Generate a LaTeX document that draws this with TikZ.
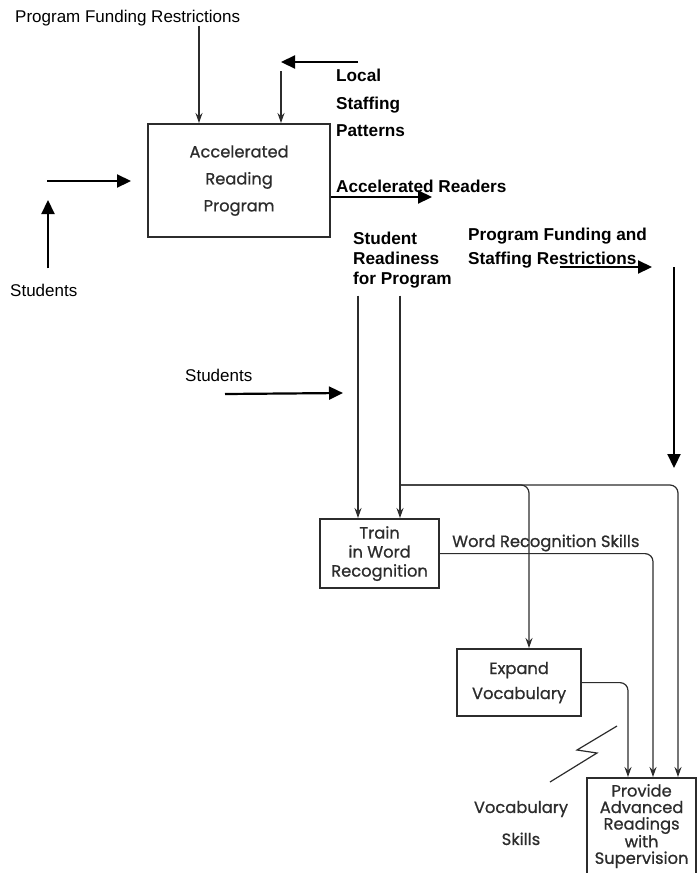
\documentclass[tikz,border=0pt]{standalone}
\usepackage{fontspec}
\setmainfont{Liberation Sans}
\newfontfamily\scanfont[FakeBold=0.8]{Poppins}
\usetikzlibrary{arrows.meta,positioning}
\definecolor{scan}{HTML}{2c2c2c}
\def \sz{17}

\begin{document}
\begin{tikzpicture}[x=1pt, y=-1pt,
    every node/.style={inner sep=0pt},
    plain/.style={font=\fontsize{\sz}{20}\selectfont, anchor=base west},
    heavy/.style={font=\fontsize{17.2}{#1}\bfseries\selectfont, align=left},
    heavy/.default=20,
    box/.style={draw=scan, line width=2.2pt, text=scan, align=center, anchor=north west},
    scantext/.style={text=scan, font=\scanfont\fontsize{16.3}{#1}\selectfont},
    scantext/.default=18,
    bold/.style={line width=2.2pt, -{Triangle[length=14pt,width=13pt]}},
    thinline/.style={draw=scan, line width=1.2pt, rounded corners=8pt, -{Stealth[length=10pt,width=7pt]}}]
    \useasboundingbox (0,0) rectangle (697,873);

    \node[box, scantext=27, minimum width=182pt, minimum height=113pt] (ARP) at (147,123) {Accelerated\\Reading\\Program};
    \node[box, scantext=19, minimum width=119pt, minimum height=69pt] (Train) at (319,518) {Train\\in Word\\Recognition};
    \node[box, scantext=25, minimum width=124pt, minimum height=67pt] (Expand) at (456,648) {Expand\\Vocabulary};
    \node[box, scantext=16.5, minimum width=109pt, minimum height=96pt] (Provide) at (586,777) {Provide\\Advanced\\Readings\\with\\Supervision};

    \node[plain] (pfr) at (15,22) {Program Funding Restrictions};
    \node[heavy=27.5, anchor=north west] (lsp) at (336,69) {Local\\Staffing\\Patterns};
    \node[plain] (stuA) at (10,296) {Students};
    \node[heavy, anchor=base west] (accR) at (336,192) {Accelerated Readers};
    \node[heavy=20, anchor=north west] (srp) at (353,232) {Student\\Readiness\\for Program};
    \node[heavy=24, anchor=north west] (pfs) at (468,228) {Program Funding and\\Staffing Restrictions};
    \node[plain] (stuB) at (185,381) {Students};
    \node[scantext, anchor=base west] (wrs) at (452,547) {Word Recognition Skills};
    \node[scantext=32, align=center] (vsk) at (521,823) {Vocabulary\\Skills};

    \coordinate (fundX) at (199,0);
    \coordinate (staffFrom) at (358,62);
    \coordinate (staffTip) at (281,62);
    \coordinate (staffTop) at (281,71);
    \coordinate (stuIn) at (47,181);
    \coordinate (stuUp) at (48,200);
    \coordinate (accOut) at (432,197);
    \coordinate (pfsFrom) at (560,267);
    \coordinate (pfsTip) at (652,267);
    \coordinate (pfsTop) at (674,267);
    \coordinate (pfsDown) at (674,468);
    \coordinate (stuFrom) at (225,394);
    \coordinate (stuTip) at (343,393);
    \coordinate (rdA) at (358,0);
    \coordinate (rdB) at (400,0);
    \coordinate (split) at (400,485);
    \coordinate (exX) at (529,0);
    \coordinate (prA) at (628,0);
    \coordinate (prB) at (653,0);
    \coordinate (prC) at (678,0);

    \draw[thinline] (pfr.south -| fundX) -- (ARP.north -| fundX);
    \path[bold] (staffFrom) edge (staffTip);
    \draw[thinline] (staffTop) -- (ARP.north -| staffTop);
    \path[bold, shorten >=16pt] (stuIn) edge (ARP.west |- stuIn);
    \path[bold, shorten <=15pt] (stuA.north -| stuUp) edge (stuUp);
    \path[bold] (ARP.east |- accOut) edge (accOut);
    \path[bold] (pfsFrom) edge (pfsTip);
    \path[bold] (pfsTop) edge (pfsDown);
    \path[bold] (stuFrom) edge (stuTip);

    \draw[thinline, shorten <=7pt] (srp.south -| rdA) -- (Train.north -| rdA);
    \draw[thinline, shorten <=7pt] (srp.south -| rdB) -- (Train.north -| rdB);
    \draw[thinline] (split) -- (split -| prC) -- (Provide.north -| prC);
    \draw[thinline] (split) -- (split -| exX) -- (Expand.north -| exX);
    \draw[thinline] (Train.east) -- (Train.east -| prB) -- (Provide.north -| prB);
    \draw[thinline] (Expand.east) -- (Expand.east -| prA) -- (Provide.north -| prA);

    \draw[scan, line width=1.2pt] (617,726) -- (577,750) -- (597,753) -- (550,782);
  \end{tikzpicture}
\end{document}
